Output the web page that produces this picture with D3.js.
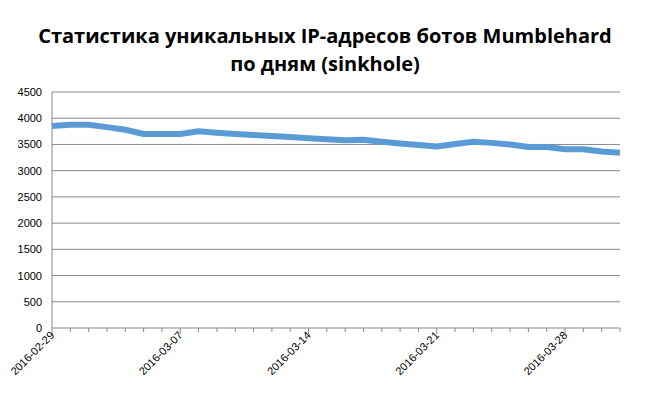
<!DOCTYPE html>
<html><head><meta charset="utf-8">
<script src="https://cdn.jsdelivr.net/npm/d3@7"></script>
<style>body{margin:0;background:#fff}</style></head>
<body><div id="chart"></div>
<script>
const titleLines = ["Статистика уникальных IP-адресов ботов Mumblehard", "по дням (sinkhole)"];
const values = [3850,3875,3875,3830,3780,3700,3700,3700,3750,3725,3700,3680,3660,3640,3620,3600,
  3580,3590,3550,3520,3490,3460,3510,3550,3530,3500,3450,3450,3410,3410,3365,3340];
const startDate = new Date(2016, 1, 29);
const dates = values.map((v, i) => d3.timeDay.offset(startDate, i));
const yTicks = d3.range(0, 4501, 500);
const labelDates = ["2016-02-29","2016-03-07","2016-03-14","2016-03-21","2016-03-28"];

const W = 648, H = 404;
const plotLeft = 52, plotRight = 620, plotTop = 92, plotBottom = 328;
const fmt = d3.timeFormat("%Y-%m-%d");

const svg = d3.select("#chart").append("svg").attr("width", W).attr("height", H);

svg.append("g").selectAll("text").data(titleLines).join("text")
  .attr("x", 325).attr("y", (d, i) => 43 + i * 28)
  .attr("text-anchor", "middle")
  .style("font", "bold 20px 'Open Sans', sans-serif").attr("fill", "#000")
  .text(d => d);

const x = d3.scaleTime().domain([dates[0], dates[dates.length - 1]]).range([plotLeft, plotRight]);
const y = d3.scaleLinear().domain([0, 4500]).range([plotBottom, plotTop]);

svg.append("g").selectAll("line").data(yTicks.slice(1)).join("line")
  .attr("x1", plotLeft).attr("x2", plotRight).attr("y1", d => y(d)).attr("y2", d => y(d))
  .attr("stroke", "#888").attr("stroke-width", 1);

svg.append("g").selectAll("text").data(yTicks).join("text")
  .attr("x", plotLeft - 10).attr("y", d => y(d) + 4).attr("text-anchor", "end")
  .style("font", "11px 'Liberation Sans', Arial, sans-serif").text(d => d);

svg.append("line").attr("x1", plotLeft).attr("x2", plotLeft).attr("y1", plotTop).attr("y2", plotBottom).attr("stroke", "#888");
svg.append("line").attr("x1", plotLeft).attr("x2", plotRight).attr("y1", plotBottom).attr("y2", plotBottom).attr("stroke", "#888");

svg.append("g").selectAll("line").data(dates).join("line")
  .attr("x1", d => x(d)).attr("x2", d => x(d))
  .attr("y1", plotBottom).attr("y2", d => labelDates.includes(fmt(d)) ? plotBottom + 6 : plotBottom + 4)
  .attr("stroke", "#888");

svg.append("g").selectAll("text").data(dates.filter(d => labelDates.includes(fmt(d)))).join("text")
  .attr("transform", d => `translate(${x(d) + 3},${plotBottom + 8}) rotate(-45)`)
  .attr("text-anchor", "end")
  .style("font", "11px 'Liberation Sans', Arial, sans-serif").text(d => fmt(d));

svg.append("path").datum(values)
  .attr("fill", "none").attr("stroke", "#5b9bd5").attr("stroke-width", 6)
  .attr("stroke-linejoin", "round")
  .attr("d", d3.line().x((d, i) => x(dates[i])).y(d => y(d)));
</script></body></html>
